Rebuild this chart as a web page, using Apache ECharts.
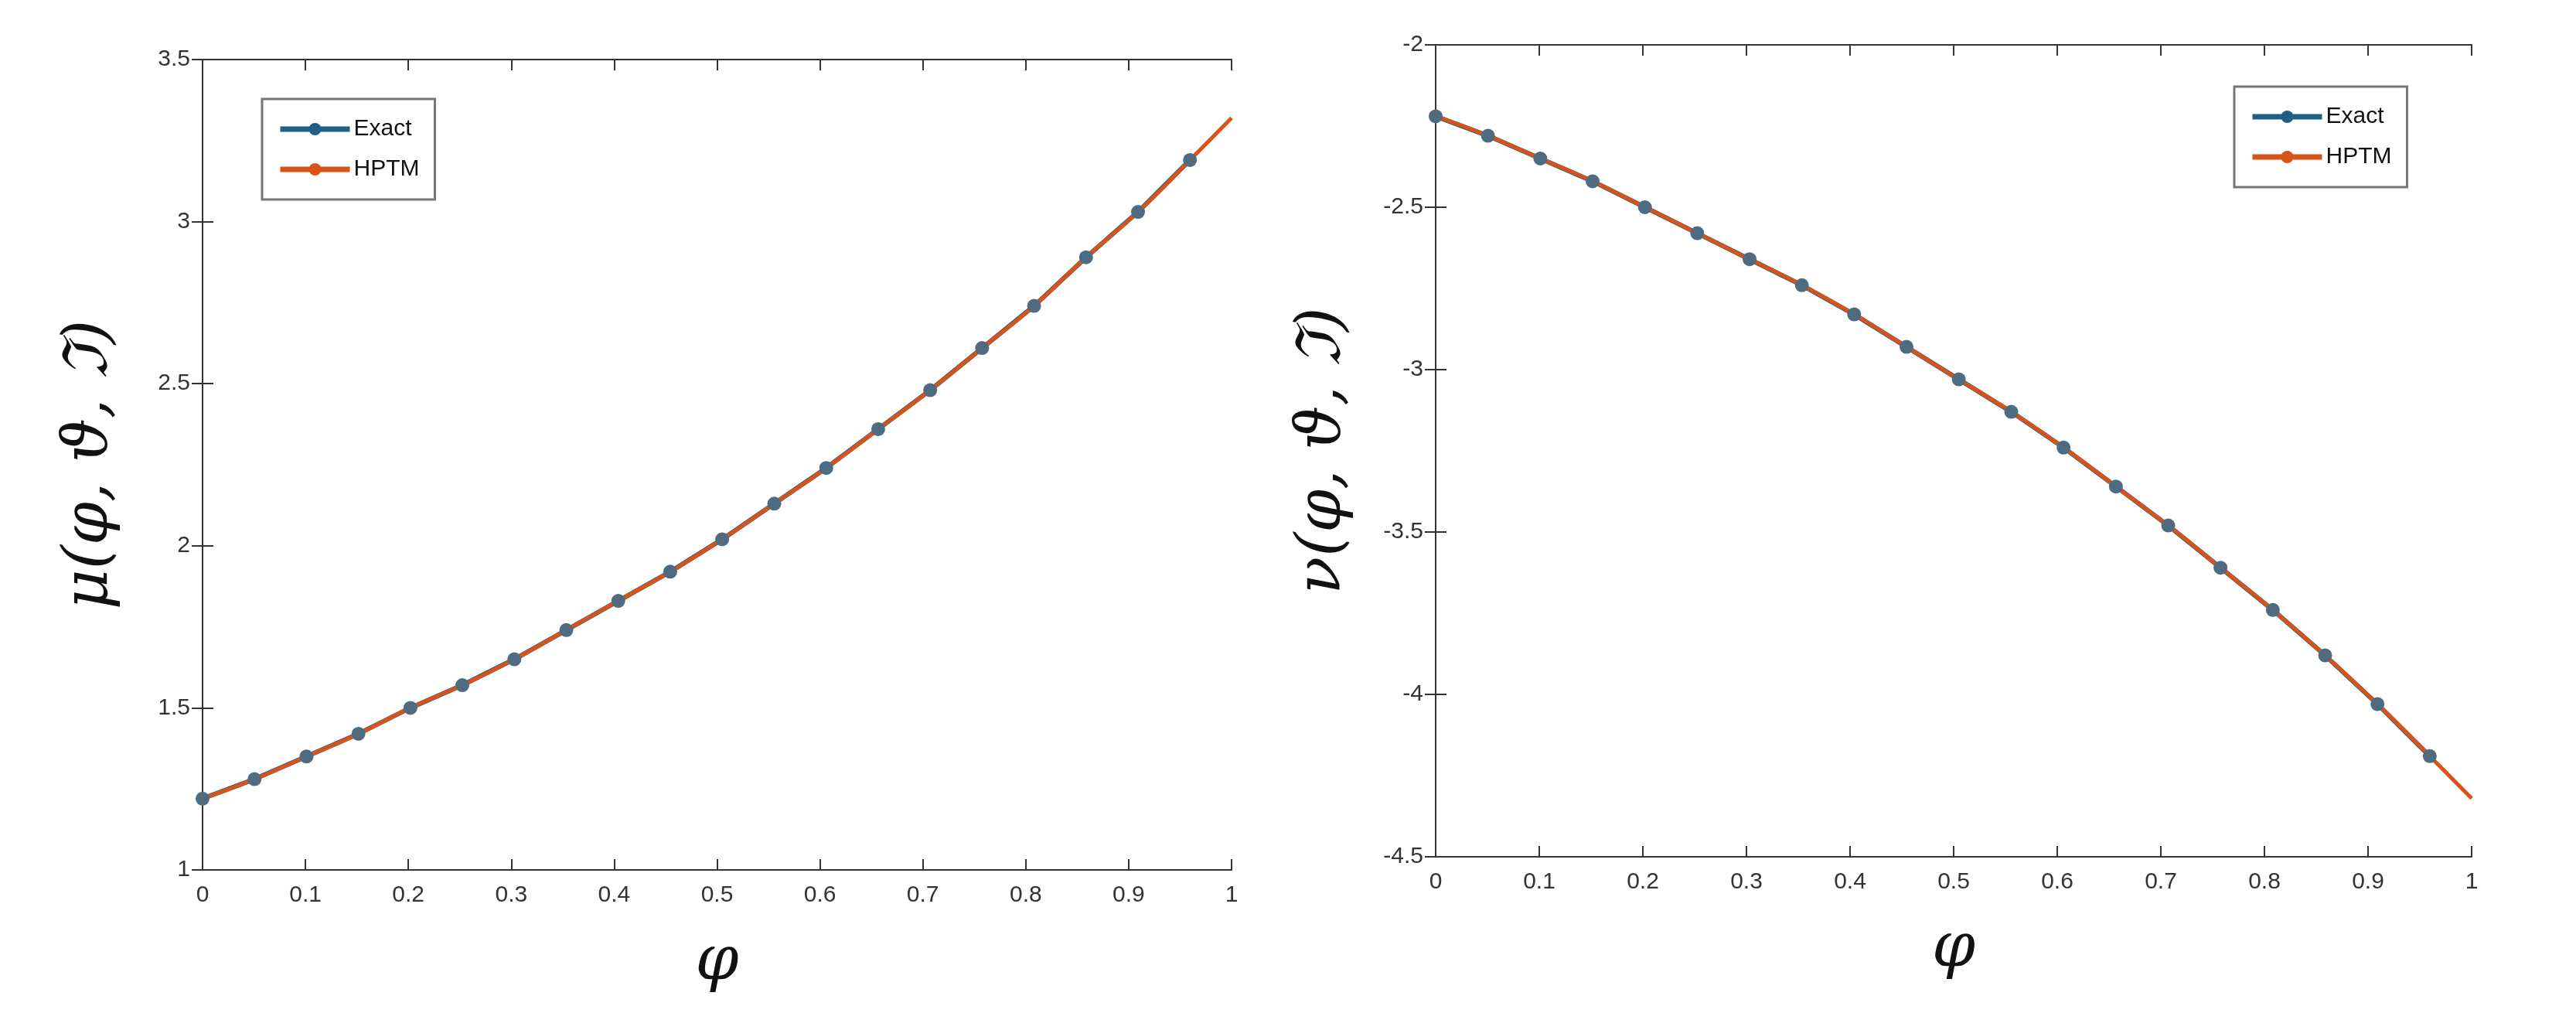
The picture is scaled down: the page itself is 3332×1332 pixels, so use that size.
<!DOCTYPE html>
<html><head><meta charset="utf-8">
<script src="https://cdn.jsdelivr.net/npm/echarts@6/dist/echarts.min.js"></script>
<style>html,body{margin:0;background:#fff}#c{width:3332px;height:1332px}</style>
</head><body><div id="c"></div>
<script>
// sample points (phi)
const phi = [0, 0.0505, 0.101, 0.1515, 0.202, 0.2525, 0.303, 0.3535, 0.404, 0.4545,
  0.505, 0.5556, 0.6061, 0.6566, 0.7071, 0.7576, 0.8081, 0.8586, 0.9091, 0.9596, 1];
const muVals = [1.22, 1.28, 1.35, 1.42, 1.50, 1.57, 1.65, 1.74, 1.83, 1.92,
  2.02, 2.13, 2.24, 2.36, 2.48, 2.61, 2.74, 2.89, 3.03, 3.19, 3.32];
const nuVals = [-2.22, -2.28, -2.35, -2.42, -2.50, -2.58, -2.66, -2.74, -2.83, -2.93,
  -3.03, -3.13, -3.24, -3.36, -3.48, -3.61, -3.74, -3.88, -4.03, -4.19, -4.32];

const exactColor = '#1f5f86', hptmColor = '#d95319';
const pairs = (xs, ys) => xs.map((x, i) => [x, ys[i]]);

const chart = echarts.init(document.getElementById('c'));
const lbl = { color: '#333', fontSize: 30, fontFamily: 'Liberation Sans' };
const axLine = { lineStyle: { color: '#333', width: 2 } };
const tick = { inside: true, length: 14, lineStyle: { color: '#333', width: 2 } };
const nameStyle = { fontSize: 80, fontStyle: 'italic', fontFamily: 'DejaVu Serif', color: '#111' };
const grids = [
  { left: 262, top: 77, width: 1331, height: 1048 },
  { left: 1857, top: 58, width: 1340, height: 1050 }
];
const yRanges = [[1, 3.5], [-4.5, -2]];
const yNames = ['μ(φ, ϑ, ℑ)', 'ν(φ, ϑ, ℑ)'];
const xAxis = [], yAxis = [], series = [];
[0, 1].forEach(g => {
  xAxis.push({ type: 'value', gridIndex: g, min: 0, max: 1, interval: 0.1,
    axisLine: axLine, axisTick: tick,
    axisLabel: { ...lbl, margin: 18, formatter: v => String(+v.toFixed(1)) },
    splitLine: { show: false },
    name: 'φ', nameLocation: 'middle', nameGap: 80, nameTextStyle: nameStyle });
  xAxis.push({ type: 'value', gridIndex: g, position: 'top', min: 0, max: 1, interval: 0.1,
    axisLine: axLine, axisTick: tick, axisLabel: { show: false }, splitLine: { show: false } });
  yAxis.push({ type: 'value', gridIndex: g, min: yRanges[g][0], max: yRanges[g][1], interval: 0.5,
    axisLine: axLine, axisTick: tick,
    axisLabel: { ...lbl, margin: 16 }, splitLine: { show: false },
    name: yNames[g], nameLocation: 'middle', nameGap: 105, nameRotate: 90, nameTextStyle: nameStyle });
  yAxis.push({ type: 'value', gridIndex: g, position: 'right', min: yRanges[g][0], max: yRanges[g][1], interval: 0.5,
    axisLine: axLine, axisTick: tick, axisLabel: { show: false }, splitLine: { show: false } });
  const ys = g === 0 ? muVals : nuVals;
  series.push({ name: 'Exact', type: 'line', xAxisIndex: 2 * g, yAxisIndex: 2 * g,
    data: pairs(phi.slice(0, 20), ys.slice(0, 20)), symbol: 'circle', symbolSize: 18,
    itemStyle: { color: '#4f6b80' }, lineStyle: { color: exactColor, width: 6 } });
  series.push({ name: 'HPTM', type: 'line', xAxisIndex: 2 * g, yAxisIndex: 2 * g, smooth: true,
    data: pairs(phi, ys), symbol: 'none', itemStyle: { color: hptmColor },
    lineStyle: { color: hptmColor, width: 5 } });
});
const legItems = [
  { name: 'Exact', itemStyle: { color: exactColor }, lineStyle: { width: 7, color: exactColor } },
  { name: 'HPTM', lineStyle: { width: 7, color: hptmColor } }
];
const legBase = { data: legItems, orient: 'vertical',
  itemWidth: 90, itemHeight: 20, itemGap: 22, padding: [24, 20, 24, 20],
  borderColor: '#777', borderWidth: 3, backgroundColor: '#fff',
  textStyle: { fontSize: 30, fontFamily: 'Liberation Sans', color: '#111' } };
const legend = [
  { ...legBase, left: 339, top: 128 },
  { ...legBase, left: 2890, top: 112 }
];
chart.setOption({ animation: false, grid: grids, xAxis, yAxis, series, legend });
</script></body></html>
